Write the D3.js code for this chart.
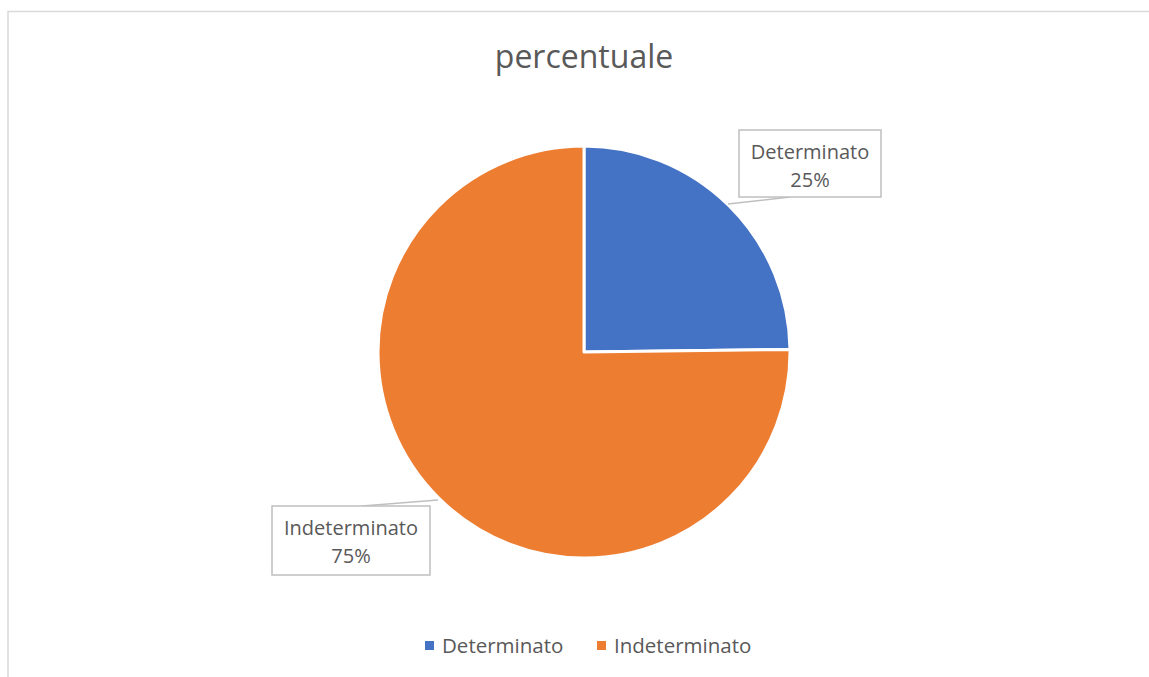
<!DOCTYPE html>
<html>
<head>
<meta charset="utf-8">
<script src="https://cdn.jsdelivr.net/npm/d3@7"></script>
<style>
html,body{margin:0;padding:0;background:#fff;}
svg{display:block;}
text{font-family:"Open Sans",sans-serif;fill:#595959;}
</style>
</head>
<body>
<svg id="chart" width="1149" height="677"></svg>
<script>
const categories = ["Determinato", "Indeterminato"];
const values = [24.8, 75.2];
const percentLabels = ["25%", "75%"];
const colors = ["#4472C4", "#ED7D31"];
const title = "percentuale";

const W = 1149, H = 677;
const svg = d3.select("#chart");

// chart area border
svg.append("path")
  .attr("d", `M8,${H+5} L8,11.5 L${W+5},11.5`)
  .attr("fill", "none").attr("stroke", "#d9d9d9").attr("stroke-width", 1.5);

svg.append("text")
  .attr("x", 584).attr("y", 68)
  .attr("text-anchor", "middle")
  .style("font-size", "32px")
  .text(title);

const cx = 584, cy = 352, r = 206;
const pie = d3.pie().sort(null).value(d => d.v)(categories.map((c, i) => ({c, v: values[i], i})));
const arc = d3.arc().innerRadius(0).outerRadius(r);

const g = svg.append("g").attr("transform", `translate(${cx},${cy})`);
g.selectAll("path.slice").data(pie).join("path")
  .attr("class", "slice")
  .attr("d", arc)
  .attr("fill", d => colors[d.data.i])
  .attr("stroke", "#fff").attr("stroke-width", 3).attr("stroke-linejoin", "round");

// data label callouts
const boxes = [
  {x: 739, y: 130, w: 142, h: 67, anchor: [728, 204], attach: [790, 197]},
  {x: 272, y: 506, w: 158, h: 69, anchor: [438, 500], attach: [362, 506]}
];
pie.forEach((d, i) => {
  const b = boxes[i];
  svg.append("line")
    .attr("x1", b.anchor[0]).attr("y1", b.anchor[1])
    .attr("x2", b.attach[0]).attr("y2", b.attach[1])
    .attr("stroke", "#bfbfbf").attr("stroke-width", 1.5);
  svg.append("rect")
    .attr("x", b.x).attr("y", b.y).attr("width", b.w).attr("height", b.h)
    .attr("fill", "#fff").attr("stroke", "#bfbfbf").attr("stroke-width", 1.5);
  const t = svg.append("text").attr("text-anchor", "middle").style("font-size", "20px");
  t.append("tspan").attr("x", b.x + b.w/2).attr("y", b.y + 29).text(categories[d.data.i]);
  t.append("tspan").attr("x", b.x + b.w/2).attr("y", b.y + 57).text(percentLabels[d.data.i]);
});

// legend
const legendX = [425, 597];
const lg = svg.append("g");
categories.forEach((c, i) => {
  lg.append("rect").attr("x", legendX[i]).attr("y", 641).attr("width", 9).attr("height", 9).attr("fill", colors[i]);
  lg.append("text").attr("x", legendX[i] + 17).attr("y", 653).style("font-size", "20.5px").text(c);
});
</script>
</body>
</html>
